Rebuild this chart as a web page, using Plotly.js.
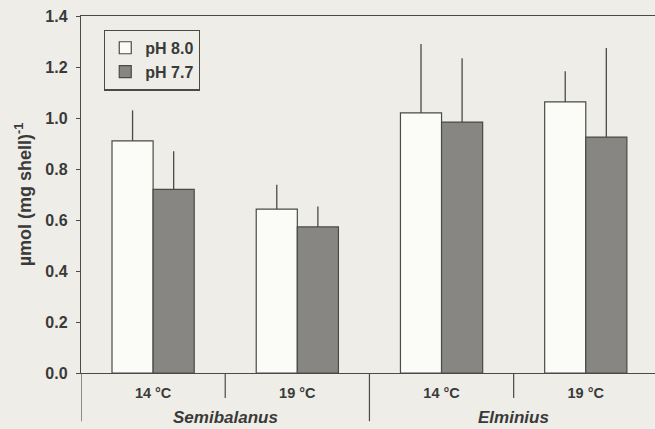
<!DOCTYPE html>
<html>
<head>
<meta charset="utf-8">
<script src="https://cdn.plot.ly/plotly-3.0.1.min.js"></script>
<style>html,body{margin:0;padding:0;background:#eeede8;}</style>
</head>
<body>
<div id="chart" style="width:655px;height:429px;"></div>
<script>
// Data
const categories = ["S14", "S19", "E14", "E19"];
const tempLabels = ["14 °C", "19 °C", "14 °C", "19 °C"];
const species = ["Semibalanus", "Elminius"];
const seriesNames = ["pH 8.0", "pH 7.7"];
const ph80 = [0.91, 0.643, 1.02, 1.063];
const ph80err = [0.12, 0.095, 0.27, 0.12];
const ph77 = [0.72, 0.573, 0.984, 0.925];
const ph77err = [0.15, 0.08, 0.25, 0.35];

const ink = "#4a4a48";
const font = {family: "Liberation Sans, Arial, sans-serif", color: "#3a3a38", weight: "bold"};
function f(size, extra) { return Object.assign({}, font, {size: size}, extra || {}); }

function errObj(arr) {
  return {type: "data", symmetric: false, array: arr, arrayminus: arr.map(() => 0),
          color: ink, thickness: 1.3, width: 0};
}

const traces = [
  {type: "bar", name: seriesNames[0], x: categories, y: ph80, error_y: errObj(ph80err),
   marker: {color: "#fbfbf8", line: {color: ink, width: 1.2}}},
  {type: "bar", name: seriesNames[1], x: categories, y: ph77, error_y: errObj(ph77err),
   marker: {color: "#878683", line: {color: ink, width: 1.2}}}
];

const shapes = [];
// category boundary dividers: long between species groups, short between temperatures
for (let i = 0; i <= categories.length - 1; i++) {
  const xb = i - 0.5;
  const long = (i % 2 === 0);
  shapes.push({type: "line", xref: "x", yref: "paper", x0: xb, x1: xb,
    y0: 0, y1: long ? -0.135 : -0.07, line: {color: ink, width: 1.2}});
}

const annotations = species.map((s, k) => ({
  text: s, xref: "x", yref: "paper", x: 2 * k + 0.5, y: -0.126, showarrow: false,
  yanchor: "middle", font: f(17, {style: "italic"})
}));

const layout = {
  width: 655, height: 429,
  margin: {l: 81, r: 0, t: 16, b: 56},
  paper_bgcolor: "#eeede8", plot_bgcolor: "#eeede8",
  barmode: "group", bargap: 0.43, bargroupgap: 0,
  showlegend: true,
  legend: {x: 0.04, y: 0.962, xanchor: "left", yanchor: "top",
    bgcolor: "#eeede8", bordercolor: ink, borderwidth: 1.3,
    font: f(16), itemwidth: 30, tracegroupgap: 0},
  font: font,
  xaxis: {type: "category", range: [-0.5, 3.48], tickmode: "array",
    tickvals: categories, ticktext: tempLabels, ticks: "", showgrid: false,
    showline: true, linecolor: ink, linewidth: 1.2, mirror: true,
    ticklabelstandoff: 6, tickfont: f(14.5)},
  yaxis: {range: [0, 1.4], dtick: 0.2, tickformat: ".1f", ticks: "outside",
    ticklen: 4, tickcolor: ink, showgrid: false, zeroline: false,
    showline: true, linecolor: ink, linewidth: 1.2, ticklabelstandoff: 5,
    tickfont: f(16),
    title: {text: "µmol (mg shell)<sup>-1</sup>", standoff: 9, font: f(18)}},
  shapes: shapes,
  annotations: annotations
};

Plotly.newPlot("chart", traces, layout, {displayModeBar: false, staticPlot: true});
</script>
</body>
</html>
